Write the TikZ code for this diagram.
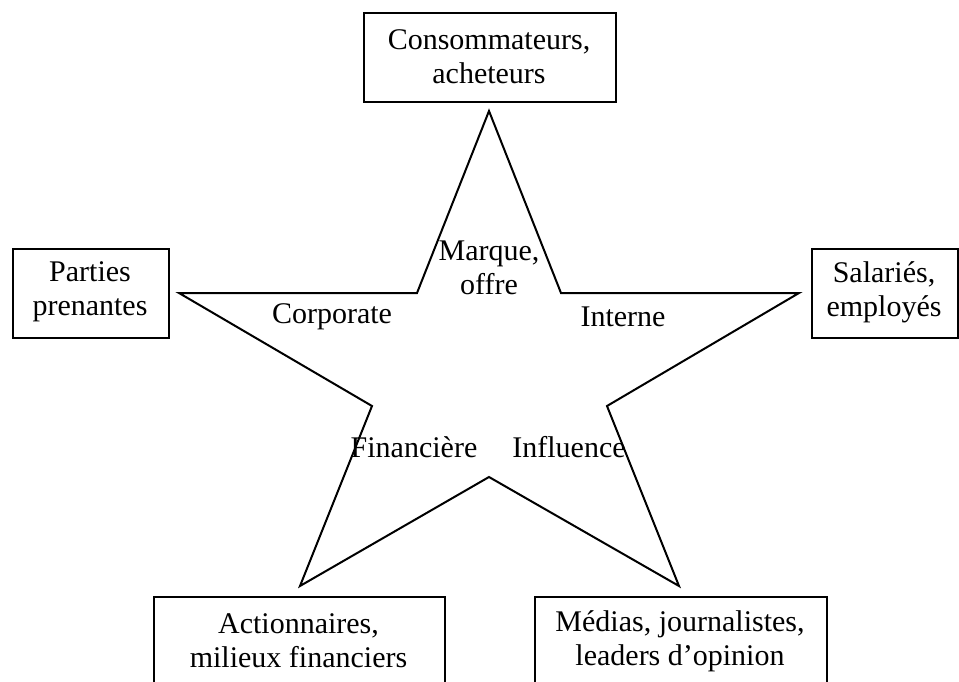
\documentclass[tikz,border=0pt]{standalone}
\usepackage{fontspec}
\setmainfont{Liberation Serif}
\begin{document}
\begin{tikzpicture}[x=1pt,y=-1pt,
  txt/.style={font=\fontsize{30}{34}\selectfont, align=center, inner sep=0pt},
  box/.style={draw, line width=2pt, inner sep=0pt},
  starline/.style={draw, line width=2pt, line join=miter}]
  \useasboundingbox (0,0) rectangle (959,682);
  \clip (0,0) rectangle (959,682);

  % outer boxes
  \node[box, minimum width=252, minimum height=89, anchor=north west] (cons) at (363,12) {};
  \node[box, minimum width=156, minimum height=89, anchor=north west] (part) at (12,248) {};
  \node[box, minimum width=146, minimum height=89, anchor=north west] (sal) at (811,248) {};
  \node[box, minimum width=291, minimum height=120, anchor=north west] (act) at (153,596) {};
  \node[box, minimum width=292, minimum height=120, anchor=north west] (med) at (534,596) {};

  \node[txt] (tcons) at (489,57) {Consommateurs,\\acheteurs};
  \node[txt] (tpart) at (90,292) {Parties\\prenantes};
  \node[txt] (tsal) at (884,292) {Salariés,\\employés};
  \node[txt] (tact) at (298.5,641) {Actionnaires,\\milieux financiers};
  \node[txt] (tmed) at (680,641) {Médias, journalistes,\\leaders d’opinion};

  % five-pointed star
  \coordinate (s1) at (489,111);
  \coordinate (s2) at (561,293);
  \coordinate (s3) at (799,293);
  \coordinate (s4) at (607,406);
  \coordinate (s5) at (679,586);
  \coordinate (s6) at (489,477);
  \coordinate (s7) at (300,586);
  \coordinate (s8) at (372,406);
  \coordinate (s9) at (179,293);
  \coordinate (s10) at (417,293);
  \draw[starline] (s1) -- (s2) -- (s3) -- (s4) -- (s5) -- (s6) -- (s7) -- (s8) -- (s9) -- (s10) -- cycle;

  % labels inside the star
  \node[txt] (marque) at (489,268) {Marque,\\offre};
  \node[txt] (corp) at (332,317) {Corporate};
  \node[txt] (int) at (623,317) {Interne};
  \node[txt] (fin) at (414,447) {Financière};
  \node[txt] (infl) at (569,447) {Influence};
\end{tikzpicture}
\end{document}
